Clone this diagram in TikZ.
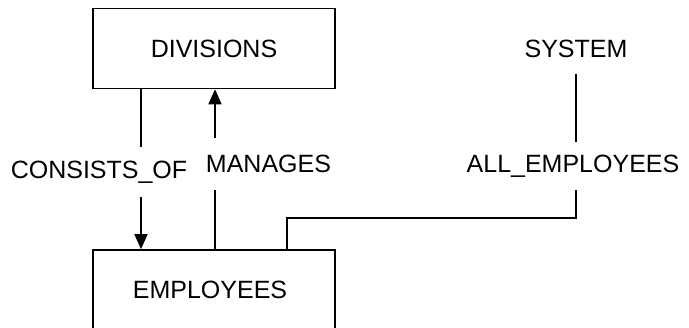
\documentclass[tikz,border=0pt]{standalone}
\usepackage{fontspec}
\setmainfont{Liberation Sans}
\usetikzlibrary{arrows.meta}
\begin{document}
\begin{tikzpicture}[x=1pt,y=-1pt,
  entity/.style={draw, line width=1.6pt, minimum width=242pt, minimum height=80pt,
    inner sep=0pt, font=\fontsize{25}{30}\selectfont},
  lbl/.style={inner xsep=0pt, font=\fontsize{25}{30}\selectfont},
  link/.style={line width=1.6pt},
  tip/.style={-{Triangle[length=15pt,width=13pt]}}]
\useasboundingbox (0,0) rectangle (689,328);
\clip (0,0) rectangle (689,328);

% entity boxes
\node[entity] (div) at (214,48.5) {DIVISIONS};
\node[entity] (emp) at (214,290) {\hspace*{-8pt}EMPLOYEES};

% relationship labels
\node[lbl, inner ysep=14pt] (cons) at (99,172) {CONSISTS\_OF};
\node[lbl, inner ysep=16.5pt] (man) at (268.5,164) {MANAGES};
\node[lbl, inner ysep=13pt] (ae) at (573,166) {ALL\_EMPLOYEES};
\node[lbl, inner ysep=16pt] (sys) at (576,48.5) {SYSTEM};

% columns of the vertical connectors
\coordinate (c1) at (141,0);
\coordinate (c2) at (215,0);
\coordinate (c4) at (576,0);
\coordinate (jog) at (287,218);

% CONSISTS_OF: DIVISIONS -> EMPLOYEES
\draw[link] (c1 |- div.south) -- (c1 |- cons.north);
\draw[link,tip] (c1 |- cons.south) -- (c1 |- emp.north);

% MANAGES: EMPLOYEES -> DIVISIONS
\draw[link] (c2 |- emp.north) -- (c2 |- man.south);
\draw[link,tip] (c2 |- man.north) -- (c2 |- div.south);

% ALL_EMPLOYEES: SYSTEM -- EMPLOYEES
\draw[link] (c4 |- sys.south) -- (c4 |- ae.north);
\draw[link] (jog |- emp.north) -- (jog) -| (c4 |- ae.south);
\end{tikzpicture}
\end{document}
